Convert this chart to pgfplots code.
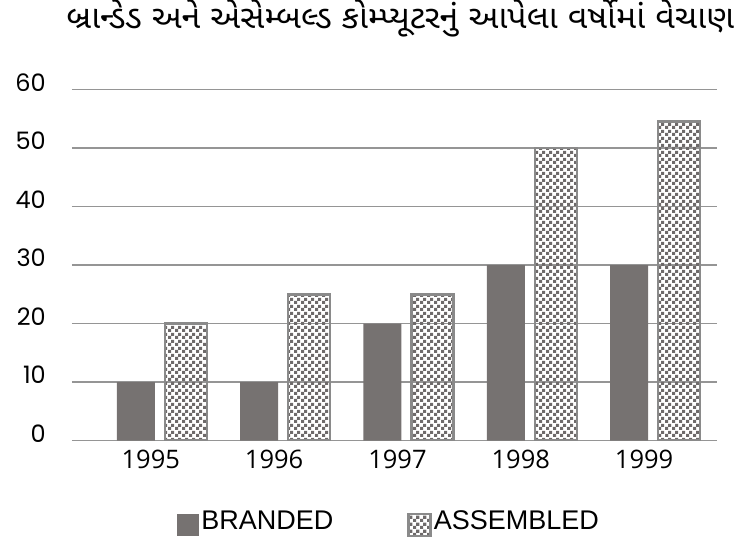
\documentclass[border=0pt]{standalone}
\usepackage{fontspec}
\usepackage{pgfplots}
\pgfplotsset{compat=1.18}
\usetikzlibrary{patterns}
\newfontfamily\poppins{Poppins}
\newfontfamily\opensans{Open Sans}
\newfontfamily\arial{Liberation Sans}
\newfontfamily\guj[Script=Gujarati,FakeStretch=1.06]{Noto Sans Gujarati UI}
\definecolor{brgray}{HTML}{767271}
\definecolor{chkgray}{HTML}{6E6A6A}
\definecolor{bordgray}{HTML}{8A8A8A}
\definecolor{gridgray}{HTML}{959595}
\pgfdeclarepatternformonly{mycheck}{\pgfpointorigin}{\pgfqpoint{7pt}{7pt}}{\pgfqpoint{7pt}{7pt}}{%
  \pgfpathrectangle{\pgfpointorigin}{\pgfqpoint{3.5pt}{3.5pt}}%
  \pgfpathrectangle{\pgfqpoint{3.5pt}{3.5pt}}{\pgfqpoint{3.5pt}{3.5pt}}%
  \pgfusepath{fill}}
\pgfplotstableread{
x branded assembled
0 10 20
1 10 25
2 20 25
3 30 50
4 30 54.5
}\sales
\begin{document}
\begin{tikzpicture}
\path[use as bounding box] (0pt,0pt) rectangle (747pt,549pt);
\begin{axis}[
  at={(72pt,108.5pt)}, anchor=south west,
  width=645pt, height=351pt, scale only axis,
  xmin=-0.72, xmax=4.51,
  ymin=0, ymax=60,
  ytick={0,10,20,30,40,50,60},
  xtick={0,1,2,3,4},
  xticklabels={1995,1996,1997,1998,1999},
  axis line style={draw=none},
  major tick length=0pt,
  ymajorgrids,
  grid style={gridgray, line width=1.2pt},
  /pgf/number format/assume math mode=true,
  yticklabel style={font=\poppins\fontsize{24}{28}\selectfont, anchor=east, inner sep=0pt, xshift=-26pt, yshift=7pt},
  xticklabel style={font=\opensans\fontsize{25.5}{30}\selectfont, anchor=center, inner sep=0pt, yshift=-19pt, xshift=-10pt},
  title={\guj બ્રાન્ડેડ અને એસેમ્બલ્ડ કોમ્પ્યૂટરનું આપેલા વર્ષોમાં વેચાણ},
  title style={font=\fontsize{32}{38}\selectfont, at={(0.509,1.158)}, anchor=base, inner sep=0pt},
  legend columns=2,
  legend style={at={(0.163,-0.235)}, anchor=west, draw=none, fill=none,
    font=\arial\fontsize{27}{32}\selectfont, inner sep=0pt,
    /tikz/every even column/.append style={column sep=72pt}},
  legend image code/.code={\fill[#1] (0pt,-15pt) rectangle (22pt,7pt);},
]
\addplot[ybar, bar width=38pt, bar shift=-25pt, fill=brgray, draw=none] table[x=x, y=branded] {\sales};
\addlegendentry{BRANDED}
\addplot[ybar, bar width=42pt, bar shift=25pt, pattern=mycheck, pattern color=chkgray, draw=bordgray, line width=2.5pt] table[x=x, y=assembled] {\sales};
\addlegendentry{ASSEMBLED}
\end{axis}
\end{tikzpicture}
\end{document}
